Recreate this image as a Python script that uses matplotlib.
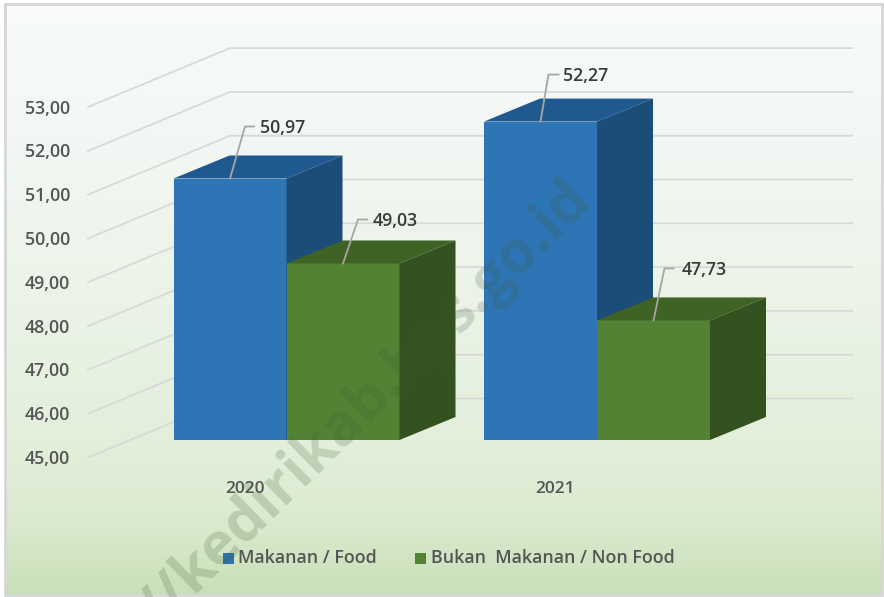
import numpy as np
import matplotlib
matplotlib.use("Agg")
import matplotlib.pyplot as plt
from matplotlib.patches import Rectangle

#======================================================================#
## chart data
years = ["2020", "2021"]
food = [50.97, 52.27]
non_food = [49.03, 47.73]
y_ticks = [45, 46, 47, 48, 49, 50, 51, 52, 53]
series_names = ["Makanan / Food", "Bukan  Makanan / Non Food"]

#======================================================================#
## plot parameters
px_per_unit = 43.8              # pixels for one unit on the value axis
base_px = 440.0                 # pixel row of value 45 on the bar front
bar_w = 113.0                   # bar front width
depth_x = 56.0                  # bar depth, pixels
depth_y = 23.0 / px_per_unit    # bar depth, value units
wall_x = 142.0                  # floor depth of the chart walls
wall_y = 59.0 / px_per_unit
group_left = [173.5, 484.0]     # left edge of each pair of bars
font = "Open Sans"
c_blue = ("#2e75b6", "#20598f", "#1c4c78")     # front, top, side
c_green = ("#548235", "#3f6325", "#34521f")
# label elbow (dx px, dy px above bar top), label text start
leaders = [[(15, 52), (24, 52), 30], [(15, 44), (24, 44), 30], [(8, 47), (18, 47), 23], [(11, 52), (20, 52), 28]]

#=============================================================================#
## one fake 3d bar, front face comes from the value axis
def bar_3d(ax, x, value, colors):
    ax.bar(x, value - y_ticks[0], width=bar_w, bottom=y_ticks[0], align='edge', color=colors[0], linewidth=0, zorder=3)
    ax.fill([x, x + depth_x, x + bar_w + depth_x, x + bar_w],
            [value, value + depth_y, value + depth_y, value], color=colors[1], linewidth=0, zorder=3)
    ax.fill([x + bar_w, x + bar_w + depth_x, x + bar_w + depth_x, x + bar_w],
            [value, value + depth_y, y_ticks[0] + depth_y, y_ticks[0]], color=colors[2], linewidth=0, zorder=3)

#=============================================================================#
def main():
    fig = plt.figure(figsize=(8.84, 5.97), dpi=100)
    ax = fig.add_axes([0, 0, 1, 1])
    ax.set_xlim(0, 884)
    ax.set_ylim(y_ticks[0] - (597 - base_px) / px_per_unit, y_ticks[0] + base_px / px_per_unit)
    ax.axis('off')
    ymin, ymax = ax.get_ylim()
    to_val = 1.0 / px_per_unit

    # background gradient
    stops_y = [0, 0.08, 0.45, 0.75, 0.88, 1.0]
    stops_c = [(248, 250, 252), (246, 249, 250), (237, 244, 234), (226, 239, 218), (218, 234, 207), (200, 224, 184)]
    grad = np.zeros((256, 1, 3))
    for k in range(3):
        grad[:, 0, k] = np.interp(np.linspace(0, 1, 256), stops_y, [c[k] / 255.0 for c in stops_c])
    ax.imshow(grad, extent=[5, 882, ymin + 2 * to_val, ymax - 4 * to_val], aspect='auto', zorder=0)
    ax.set_xlim(0, 884)
    ax.set_ylim(ymin, ymax)
    ax.add_patch(Rectangle((5, ymin + 2 * to_val), 877, (597 - 6) * to_val, fill=False, edgecolor='#d6d6d6', linewidth=2, zorder=1))

    # walls
    wall_left = 88.0
    front_drop = 17.5 * to_val     # left end of the side wall sits below the bar front
    for v in y_ticks:
        ax.plot([wall_left, wall_left + wall_x, 852], [v - front_drop, v - front_drop + wall_y, v - front_drop + wall_y],
                color='#d9d9d9', linewidth=1.3, solid_joinstyle='miter', zorder=2)
        ax.text(70, v - front_drop - 1.5 * to_val, "%d,00" % v, family=font, fontsize=12.8, fontweight='semibold', color='#555555', ha='right', va='center', zorder=6)

    # bars
    for i in range(len(years)):
        bar_3d(ax, group_left[i], food[i], c_blue)
        bar_3d(ax, group_left[i] + bar_w, non_food[i], c_green)

    # leader lines and value labels
    values = [food[0], non_food[0], food[1], non_food[1]]
    starts = [group_left[0] + bar_w / 2, group_left[0] + bar_w * 1.5, group_left[1] + bar_w / 2, group_left[1] + bar_w * 1.5]
    for x0, v, (e1, e2, tx) in zip(starts, values, leaders):
        ax.plot([x0, x0 + e1[0], x0 + e2[0]], [v, v + e1[1] * to_val, v + e2[1] * to_val], color='#a6a6a6', linewidth=1.3,
                solid_joinstyle='miter', zorder=5)
        ax.text(x0 + tx, v + (e1[1] - 1.5) * to_val, ("%.2f" % v).replace(".", ","), family=font, fontsize=12.8, fontweight='semibold', color='#3a3a3a',
                ha='left', va='center', zorder=6)

    # category labels
    label_y = y_ticks[0] - 49 * to_val
    for x0, year in zip(group_left, years):
        ax.text(x0 + bar_w * 0.63, label_y, year, family=font, fontsize=12.5, fontweight='semibold', color='#555555', ha='center', va='center', zorder=6)

    # legend
    leg_y = y_ticks[0] - 118 * to_val
    for sx, tx, name, c in zip([223, 414.5], [238, 431], series_names, [c_blue[0], c_green[0]]):
        ax.add_patch(Rectangle((sx, leg_y - 5.5 * to_val), 11, 11 * to_val, facecolor=c, edgecolor='none', zorder=6))
        ax.text(tx, leg_y, name, family=font, fontsize=12.9, fontweight='semibold', color='#555555', ha='left', va='center', zorder=6)

    # watermark
    ax.text(160, y_ticks[0] - 190 * to_val, "//kedirikab.bps.go.id", family="Open Sans", fontweight='bold', fontsize=42.5, color='#3a5a30',
            alpha=0.2, rotation=44.5, rotation_mode='anchor', ha='left', va='baseline', zorder=7, clip_on=True)

    fig.savefig("out.png", dpi=100)

#=============================================================================#
if __name__ == "__main__":
    main()
